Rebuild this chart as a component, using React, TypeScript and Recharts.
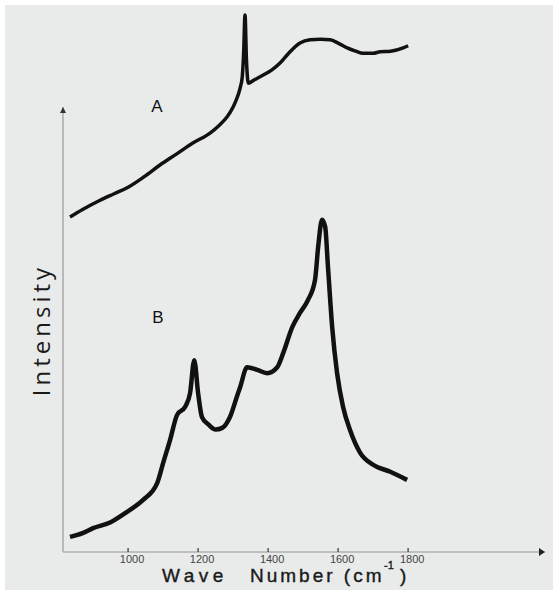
import { LineChart, Line, XAxis, YAxis, ReferenceLine, ReferenceDot } from "recharts";

// spectrum A (upper trace), wave number in cm-1 and intensity in arbitrary units
const wnA = [834, 870, 920, 960, 1000, 1045, 1091, 1140, 1186, 1234, 1260, 1283, 1300, 1309, 1320, 1326, 1330, 1334, 1338, 1341, 1343, 1360, 1386, 1410, 1434, 1460, 1491, 1520, 1549, 1577, 1600, 1626, 1650, 1671, 1700, 1720, 1750, 1786, 1800];
const intA = [61.8, 63.2, 64.9, 66.1, 67.3, 69.2, 71.4, 73.5, 75.5, 77.3, 78.7, 80.3, 82.1, 83.4, 85.6, 87.6, 92, 99.1, 91, 87.5, 86.5, 87.1, 88, 88.9, 90.2, 92.1, 93.9, 94.5, 94.6, 94.5, 93.9, 93, 92.4, 92, 92, 92.3, 92.4, 93, 93.4];

// spectrum B (lower trace)
const wnB = [834, 870, 900, 950, 997, 1043, 1083, 1100, 1120, 1140, 1163, 1177, 1189, 1200, 1211, 1230, 1250, 1269, 1291, 1314, 1320, 1340, 1369, 1397, 1426, 1443, 1469, 1491, 1514, 1534, 1543, 1554, 1563, 1571, 1583, 1597, 1614, 1634, 1663, 1700, 1749, 1797];
const intB = [2.8, 3.5, 4.4, 5.5, 7.4, 9.6, 12.7, 16.4, 20.7, 25.3, 26.8, 29.3, 35.4, 29.3, 24.9, 23.5, 22.6, 22.9, 24.9, 29.3, 30.4, 34.1, 33.6, 33, 34.1, 36.7, 41.5, 44.1, 46.5, 50.2, 56.3, 61.3, 60, 52.6, 41.5, 33, 26.8, 22.5, 18.3, 16.1, 14.8, 13.3];

const xTicks = [1000, 1200, 1400, 1600, 1800];

const X_MIN = 814;
const X_MAX = 2191;
const Y_TOP = 82.1; // where the drawn intensity axis ends

const dataA = wnA.map((wn, i) => ({ wn, a: intA[i] }));
const dataB = wnB.map((wn, i) => ({ wn, b: intB[i] }));

function WaveTick({ x, y, payload }: any) {
  return (
    <g>
      <line x1={x} x2={x} y1={y - 4} y2={y} stroke="#555" strokeWidth={1.5} />
      <text x={x + 4} y={y + 11} textAnchor="middle" fontSize={11} fill="#444" fontFamily="'Liberation Sans', Arial, sans-serif">
        {payload.value}
      </text>
    </g>
  );
}

const upArrow = ({ cx, cy }: any) => (
  <path d={`M${cx - 3},${cy + 6} L${cx},${cy} L${cx + 3},${cy + 6} Z`} fill="#333" />
);
const rightArrow = ({ cx, cy }: any) => (
  <path d={`M${cx - 6},${cy - 4} L${cx},${cy} L${cx - 6},${cy + 4} Z`} fill="#222" />
);

export default function App() {
  return (
    <div style={{ position: "absolute", left: 0, top: 0, width: 553, height: 590, background: "#ffffff" }}>
      <div style={{ position: "absolute", left: 5, top: 5, right: 0, bottom: 0, background: "#e9ebea" }} />
      <div style={{ position: "absolute", left: 0, top: 0 }}>
        <LineChart width={553} height={590} margin={{ top: 10, right: 8, left: 63, bottom: 8 }}>
          <XAxis
            type="number"
            dataKey="wn"
            domain={[X_MIN, X_MAX]}
            ticks={xTicks}
            allowDataOverflow
            height={30}
            tickSize={0}
            tickMargin={0}
            tickLine={false}
            axisLine={{ stroke: "#b0b0b0", strokeWidth: 1.5 }}
            tick={<WaveTick />}
          />
          <YAxis hide type="number" domain={[0, 100]} allowDataOverflow />
          <ReferenceLine
            segment={[{ x: X_MIN, y: 0 }, { x: X_MIN, y: Y_TOP }]}
            stroke="#a8a8a8"
            strokeWidth={1.5}
          />
          <ReferenceDot x={X_MIN} y={Y_TOP} shape={upArrow} />
          <ReferenceDot x={X_MAX} y={0} shape={rightArrow} />
          <Line
            data={dataA}
            dataKey="a"
            type="monotone"
            stroke="#111"
            strokeWidth={3.5}
            dot={false}
            isAnimationActive={false}
          />
          <Line
            data={dataB}
            dataKey="b"
            type="monotone"
            stroke="#111"
            strokeWidth={4.5}
            dot={false}
            isAnimationActive={false}
          />
        </LineChart>
      </div>
      <svg width={553} height={590} style={{ position: "absolute", left: 0, top: 0, pointerEvents: "none" }}>
        <text x={157} y={112} textAnchor="middle" fontSize={17} fill="#111" fontFamily="'Liberation Sans', Arial, sans-serif">A</text>
        <text x={158} y={323} textAnchor="middle" fontSize={17} fill="#111" fontFamily="'Liberation Sans', Arial, sans-serif">B</text>
        <text
          transform="translate(50, 330) rotate(-90)"
          textAnchor="middle"
          fontSize={24}
          letterSpacing={4}
          fill="#1a1a1a"
          fontFamily="'Open Sans', 'DejaVu Sans', sans-serif"
        >
          Intensity
        </text>
        <g fontFamily="'Liberation Sans', Arial, sans-serif" fill="#1a1a1a" stroke="#1a1a1a" strokeWidth={0.4}>
          <text x={162} y={582} fontSize={19} letterSpacing={4.5}>Wave</text>
          <text x={250} y={582} fontSize={19} letterSpacing={3}>Number (cm</text>
          <text x={384} y={569} fontSize={11}>-1</text>
          <text x={400} y={582} fontSize={19}>)</text>
        </g>
      </svg>
    </div>
  );
}
